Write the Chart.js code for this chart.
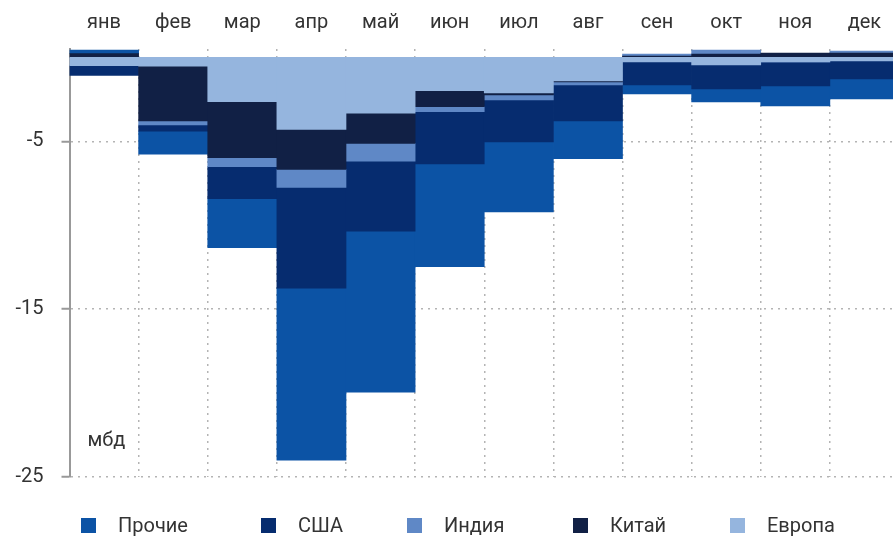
<!DOCTYPE html>
<html>
<head>
<meta charset="utf-8">
<script src="https://cdn.jsdelivr.net/npm/chart.js@4"></script>
<style>
  html, body { margin: 0; padding: 0; background: #fff; overflow: hidden; }
  #wrap { position: relative; width: 893px; height: 537px; overflow: hidden; }
  #legend { position: absolute; left: 0; top: 0; width: 893px; height: 537px; pointer-events: none; }
  .item { position: absolute; top: 515px; font: 20px Roboto, sans-serif; line-height: 20px; color: #333; white-space: nowrap; }
  .box { position: absolute; top: 3px; left: 0; width: 15px; height: 15px; }
  .txt { position: absolute; left: 37px; top: 0; }
</style>
</head>
<body>
<div id="wrap">
  <canvas id="chart" width="899" height="537"></canvas>
  <div id="legend"></div>
</div>
<script>
const months = ['янв', 'фев', 'мар', 'апр', 'май', 'июн', 'июл', 'авг', 'сен', 'окт', 'ноя', 'дек'];
const yTicks = [-5, -15, -25];
const unitLabel = 'мбд';

// stacked from zero outward: Европа first, Прочие last
const europe = [-0.5, -0.52, -2.64, -4.29, -3.33, -1.99, -2.12, -1.4, -0.27, -0.45, -0.27, -0.21];
const china  = [0.22, -3.27, -3.33, -2.38, -1.79, -0.95, -0.12, -0.06, 0.08, 0.2, 0.26, 0.26];
const india  = [0, -0.24, -0.54, -1.07, -1.07, -0.3, -0.3, -0.18, 0.12, 0.24, 0, 0.12];
const usa    = [-0.58, -0.36, -1.9, -6.01, -4.17, -3.1, -2.5, -2.14, -1.37, -1.43, -1.43, -1.07];
const others = [0.22, -1.37, -2.92, -10.24, -9.58, -6.13, -4.17, -2.26, -0.54, -0.77, -1.19, -1.19];

const textColor = '#333';
const font = { family: 'Roboto, sans-serif', size: 20 };

const unitLabelPlugin = {
    id: 'unitLabel',
    afterDraw(chart) {
        const ctx = chart.ctx;
        ctx.save();
        ctx.font = '20px Roboto, sans-serif';
        ctx.fillStyle = textColor;
        ctx.textBaseline = 'alphabetic';
        ctx.fillText(unitLabel, chart.chartArea.left + 18, 446);
        ctx.restore();
    }
};

const chart = new Chart(document.getElementById('chart').getContext('2d'), {
    type: 'bar',
    data: {
        labels: months,
        datasets: [
            { label: 'Европа', data: europe, backgroundColor: '#95b5de' },
            { label: 'Китай', data: china, backgroundColor: '#112045' },
            { label: 'Индия', data: india, backgroundColor: '#5f88c6' },
            { label: 'США', data: usa, backgroundColor: '#062c6f' },
            { label: 'Прочие', data: others, backgroundColor: '#0c53a5' }
        ]
    },
    options: {
        responsive: false,
        animation: false,
        layout: { padding: { left: 0, right: 0, top: 0, bottom: 60 } },
        datasets: { bar: { barPercentage: 1, categoryPercentage: 1, borderWidth: 0 } },
        plugins: { legend: { display: false }, tooltip: { enabled: false } },
        scales: {
            x: {
                position: 'top',
                stacked: true,
                afterFit: s => { s.height = 49; },
                grid: { offset: true, drawTicks: false, color: '#b4b4b4', lineWidth: 1.5 },
                border: { display: false, dash: [2, 5] },
                ticks: { color: textColor, font: font, padding: 14, maxRotation: 0 }
            },
            y: {
                stacked: true,
                min: -25,
                max: 0.5,
                afterFit: s => { s.width = 69.5; },
                afterBuildTicks: s => { s.ticks = yTicks.map(v => ({ value: v })); },
                grid: { color: '#b4b4b4', lineWidth: 1.5, tickLength: 8, tickColor: '#999', tickWidth: 2 },
                border: { display: true, color: '#999', width: 2, dash: [2, 5] },
                ticks: { color: textColor, font: font, padding: 18 }
            }
        }
    },
    plugins: [unitLabelPlugin]
});

// legend in reverse dataset order, as in the source
const legendX = [81, 261, 407, 573, 730];
const legendEl = document.getElementById('legend');
chart.data.datasets.slice().reverse().forEach((ds, i) => {
    const item = document.createElement('div');
    item.className = 'item';
    item.style.left = legendX[i] + 'px';
    item.innerHTML = '<span class="box" style="background:' + ds.backgroundColor + '"></span><span class="txt">' + ds.label + '</span>';
    legendEl.appendChild(item);
});
</script>
</body>
</html>
